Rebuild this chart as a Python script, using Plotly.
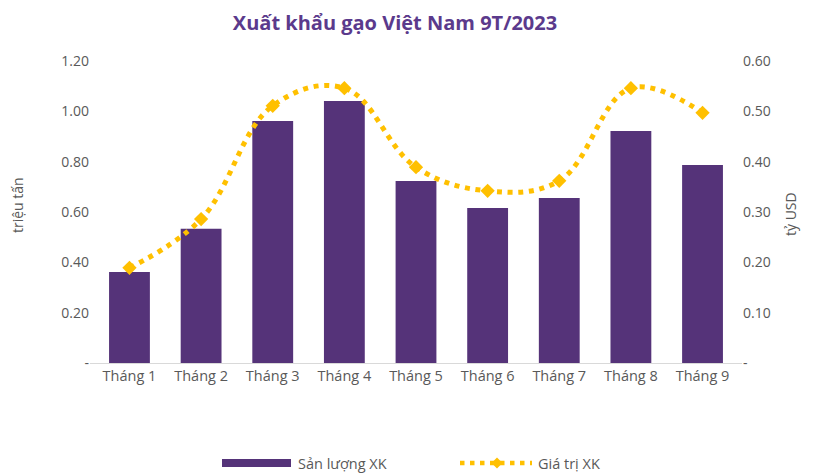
import plotly.graph_objects as go

months = ["Tháng 1", "Tháng 2", "Tháng 3", "Tháng 4", "Tháng 5", "Tháng 6", "Tháng 7", "Tháng 8", "Tháng 9"]
volume = [0.362, 0.533, 0.962, 1.041, 0.723, 0.616, 0.656, 0.922, 0.787]   # triệu tấn
value = [0.189, 0.286, 0.511, 0.546, 0.389, 0.342, 0.362, 0.546, 0.497]    # tỷ USD

left_tickvals = [0, 0.2, 0.4, 0.6, 0.8, 1.0, 1.2]
left_ticktext = ["-", "0.20", "0.40", "0.60", "0.80", "1.00", "1.20"]
right_tickvals = [0, 0.1, 0.2, 0.3, 0.4, 0.5, 0.6]
right_ticktext = ["-", "0.10", "0.20", "0.30", "0.40", "0.50", "0.60"]

PURPLE = "#553379"
GOLD = "#FFC000"
GREY = "#595959"
FONT = "Open Sans"

# the page body adds an 8px offset; the figure is sized to fit the remaining viewport
W, H = 817, 466
L, R, T, B = 82, 83, 53, 111
PW, PH = W - L - R, H - T - B


def px(sx):
    return (sx - 8 - L) / PW


def py(sy):
    return (H - B - (sy - 8)) / PH


fig = go.Figure()
fig.add_trace(go.Bar(x=months, y=volume, name="Sản lượng XK", marker=dict(color=PURPLE, line=dict(width=0)),
                     yaxis="y", showlegend=False))
fig.add_trace(go.Scatter(x=months, y=value, name="Giá trị XK", yaxis="y2", mode="lines+markers",
                         line=dict(color=GOLD, width=5, dash="5px,5.7px", shape="spline", smoothing=1.1),
                         marker=dict(symbol="diamond", size=11, color=GOLD), showlegend=False))

fig.update_layout(
    width=W, height=H,
    margin=dict(l=L, r=R, t=T, b=B, autoexpand=False),
    paper_bgcolor="white", plot_bgcolor="white",
    font=dict(family=FONT, color=GREY, size=14),
    title=dict(text="<b>Xuất khẩu gạo Việt Nam 9T/2023</b>", xref="container", x=387 / W, xanchor="center",
               yref="container", y=1 - 14.5 / H, yanchor="middle",
               font=dict(family=FONT, size=20, color="#5B3A8C")),
    bargap=0.43,
    xaxis=dict(showline=True, linecolor="#D9D9D9", linewidth=1, ticks="", showgrid=False,
               tickfont=dict(size=14.5, color=GREY), automargin=False),
    yaxis=dict(range=[0, 1.2], tickvals=left_tickvals, ticktext=left_ticktext, showgrid=False,
               zeroline=False, showline=False, ticks="", tickfont=dict(size=14, color=GREY), automargin=False),
    yaxis2=dict(range=[0, 0.6], tickvals=right_tickvals, ticktext=right_ticktext, overlaying="y", side="right",
                showgrid=False, zeroline=False, showline=False, ticks="", tickfont=dict(size=14, color=GREY),
                automargin=False),
)

# axis titles
fig.add_annotation(xref="paper", yref="paper", x=px(17), y=py(205), text="triệu tấn", textangle=-90,
                   showarrow=False, xanchor="center", yanchor="middle", font=dict(size=14, color=GREY))
fig.add_annotation(xref="paper", yref="paper", x=px(790), y=py(214), text="tỷ USD", textangle=-90,
                   showarrow=False, xanchor="center", yanchor="middle", font=dict(size=14, color=GREY))

# custom legend (bottom)
ly = py(463)
fig.add_shape(type="rect", xref="paper", yref="paper", x0=px(222), x1=px(291), y0=py(467), y1=py(459),
              fillcolor=PURPLE, line=dict(width=0))
fig.add_annotation(xref="paper", yref="paper", x=px(296), y=ly, text="Sản lượng XK", showarrow=False,
                   xanchor="left", yanchor="middle", font=dict(size=14.5, color=GREY))
fig.add_shape(type="line", xref="paper", yref="paper", x0=px(460), x1=px(532), y0=ly, y1=ly,
              line=dict(color=GOLD, width=4.5, dash="4.5px,5.5px"))
cx, cy = px(497), ly
dx, dy = 5.5 / PW, 5.5 / PH
fig.add_shape(type="path", xref="paper", yref="paper",
              path=f"M {cx-dx} {cy} L {cx} {cy+dy} L {cx+dx} {cy} L {cx} {cy-dy} Z",
              fillcolor=GOLD, line=dict(width=0))
fig.add_annotation(xref="paper", yref="paper", x=px(536), y=ly, text="Giá trị XK", showarrow=False,
                   xanchor="left", yanchor="middle", font=dict(size=14.5, color=GREY))

fig.write_html("out.html")
